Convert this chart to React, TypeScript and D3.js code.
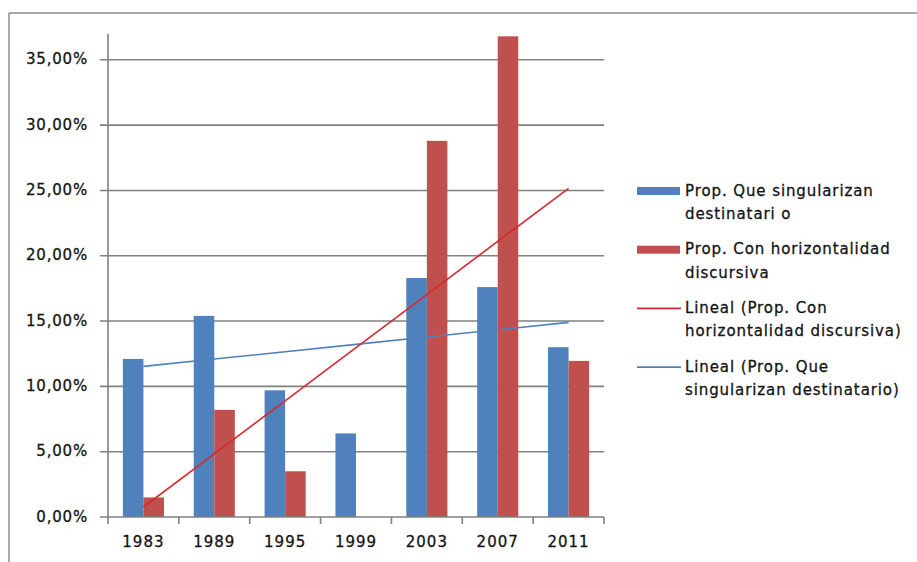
import { useMemo } from 'react';
import * as d3 from 'd3';

// chart data
const years = ['1983', '1989', '1995', '1999', '2003', '2007', '2011'];
const singularizan = [0.121, 0.154, 0.097, 0.064, 0.183, 0.176, 0.13];
const horizontalidad = [0.015, 0.082, 0.035, 0, 0.288, 0.368, 0.1195];
const yTicks = [0, 0.05, 0.1, 0.15, 0.2, 0.25, 0.3, 0.35];

const legendItems = [
  { kind: 'bar', color: '#4f81bd', lines: ['Prop. Que singularizan', 'destinatari o'] },
  { kind: 'bar', color: '#c0504d', lines: ['Prop. Con horizontalidad', 'discursiva'] },
  { kind: 'line', color: '#d8282b', lines: ['Lineal (Prop. Con', 'horizontalidad discursiva)'] },
  { kind: 'line', color: '#4f81bd', lines: ['Lineal (Prop. Que', 'singularizan destinatario)'] },
];

const W = 917;
const H = 562;
const PLOT = { left: 108, right: 604, top: 33.7, bottom: 517 };
const GRID = '#808080';
const FONT = '"DejaVu Sans", sans-serif';
const INK = '#141414';

// least squares fit over category index 1..n, like Excel's linear trendline
function linearFit(values: number[]) {
  const xs = values.map((_, i) => i + 1);
  const mx = d3.mean(xs) as number;
  const my = d3.mean(values) as number;
  const sxy = d3.sum(xs, (x, i) => (x - mx) * (values[i] - my));
  const sxx = d3.sum(xs, x => (x - mx) * (x - mx));
  const slope = sxy / sxx;
  return xs.map(x => my + slope * (x - mx));
}

export default function App() {
  const x = useMemo(
    () => d3.scaleBand<string>().domain(years).range([PLOT.left, PLOT.right]).padding(0),
    [],
  );
  const y = useMemo(
    () => d3.scaleLinear().domain([0, 0.37]).range([PLOT.bottom, PLOT.top]),
    [],
  );
  const barW = x.bandwidth() * 0.29;
  const fmt = (v: number) => (v * 100).toFixed(2).replace('.', ',') + '%';

  const line = d3
    .line<number>()
    .x((_, i) => (x(years[i]) as number) + x.bandwidth() / 2)
    .y(v => y(v));

  const redTrend = linearFit(horizontalidad);
  const blueTrend = linearFit(singularizan);

  const boundaries = [...years.map(yr => x(yr) as number), PLOT.right];
  const textStyle = { stroke: INK, strokeWidth: 0.3 };

  return (
    <div style={{ position: 'fixed', left: 0, top: 0 }}>
      <svg width={W} height={H} style={{ display: 'block', background: '#fff', fontFamily: FONT }}>
        {/* outer frame */}
        <line x1={9} y1={13} x2={W} y2={13} stroke="#8c8c8c" strokeWidth={1.5} />
        <line x1={9} y1={13} x2={9} y2={H} stroke="#8c8c8c" strokeWidth={1.5} />

        {/* gridlines + y labels */}
        {yTicks.map(t => (
          <g key={t}>
            {t > 0 && (
              <line x1={PLOT.left - 8} x2={PLOT.right} y1={y(t)} y2={y(t)} stroke={GRID} strokeWidth={1.6} />
            )}
            <text
              x={88}
              y={y(t)}
              textAnchor="end"
              dominantBaseline="middle"
              fontSize={15}
              letterSpacing={0.8}
              fill={INK}
              style={textStyle}
            >
              {fmt(t)}
            </text>
          </g>
        ))}

        {/* bars */}
        {years.map((yr, i) => {
          const cx = (x(yr) as number) + x.bandwidth() / 2;
          return (
            <g key={yr}>
              <rect x={cx - barW} y={y(singularizan[i])} width={barW} height={y(0) - y(singularizan[i])} fill="#4f81bd" />
              {horizontalidad[i] > 0 && (
                <rect x={cx} y={y(horizontalidad[i])} width={barW} height={y(0) - y(horizontalidad[i])} fill="#c0504d" />
              )}
            </g>
          );
        })}

        {/* axes */}
        <line x1={PLOT.left} x2={PLOT.left} y1={PLOT.top} y2={PLOT.bottom} stroke={GRID} strokeWidth={1.6} />
        <line x1={PLOT.left - 8} x2={PLOT.right} y1={PLOT.bottom} y2={PLOT.bottom} stroke={GRID} strokeWidth={1.6} />
        {boundaries.map((bx, i) => (
          <line key={i} x1={bx} x2={bx} y1={PLOT.bottom} y2={PLOT.bottom + 7} stroke={GRID} strokeWidth={1.6} />
        ))}
        {years.map(yr => (
          <text
            key={yr}
            x={(x(yr) as number) + x.bandwidth() / 2}
            y={542}
            textAnchor="middle"
            dominantBaseline="middle"
            fontSize={15}
            letterSpacing={1}
            fill={INK}
            style={textStyle}
          >
            {yr}
          </text>
        ))}

        {/* trendlines */}
        <path d={line(blueTrend) ?? ''} fill="none" stroke="#4f81bd" strokeWidth={1.6} />
        <path d={line(redTrend) ?? ''} fill="none" stroke="#d8282b" strokeWidth={1.6} />

        {/* legend */}
        {legendItems.map((item, i) => {
          const cy = 191 + i * 58.7;
          return (
            <g key={i}>
              {item.kind === 'bar' ? (
                <rect x={637} y={cy - 4} width={43} height={8} fill={item.color} />
              ) : (
                <line x1={637} x2={681} y1={cy} y2={cy} stroke={item.color} strokeWidth={1.8} />
              )}
              {item.lines.map((t, j) => (
                <text
                  key={j}
                  x={685}
                  y={cy + j * 23.5}
                  dominantBaseline="middle"
                  fontSize={15}
                  letterSpacing={0.9}
                  fill={INK}
                  style={textStyle}
                >
                  {t}
                </text>
              ))}
            </g>
          );
        })}
      </svg>
    </div>
  );
}
